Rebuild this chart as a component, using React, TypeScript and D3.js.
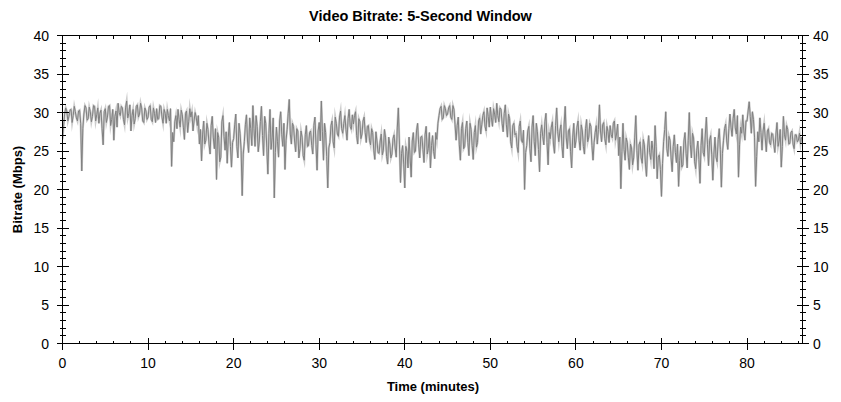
import React from "react";
import * as d3 from "d3";

const W = 841;
const H = 402;

const TITLE = "Video Bitrate: 5-Second Window";
const X_LABEL = "Time (minutes)";
const Y_LABEL = "Bitrate (Mbps)";

const STEP_MIN = 0.25;
const X_MAX = 86.48;
const Y_MAX = 40;

const xMajorTicks = [0, 10, 20, 30, 40, 50, 60, 70, 80];
const xMinorTicks = d3.range(0, 87, 2);
const yMajorTicks = [0, 5, 10, 15, 20, 25, 30, 35, 40];
const yMinorTicks = d3.range(0, 41, 1);

// Bitrate (Mbps) sampled at t = i * 0.25 min
const bitrate: number[] = [
  26.5, 29.8, 30.2, 29.5,
  30.4, 29.6, 30.1, 28.9,
  30.3, 22.4, 29.8, 30.6,
  29.2, 30.1, 29.5, 30.8,
  29.7, 28.6, 30.3, 25.8,
  30.5, 29.4, 30.9, 29.1,
  26.4, 30.2, 31.2, 29.6,
  30.6, 28.4, 31.5, 29.9,
  27.6, 30.4, 29.2, 31.0,
  29.8, 30.6, 28.7, 30.2,
  29.4, 30.9, 28.8, 29.9,
  30.5, 29.2, 30.8, 28.6,
  29.9, 30.4, 28.9, 23.0,
  26.2, 29.6, 30.4, 28.1,
  29.7, 26.5, 30.2, 28.8,
  29.4, 27.6, 30.0, 28.3,
  25.9, 23.7, 28.9, 26.4,
  27.8, 24.6, 29.5, 25.3,
  21.3, 26.8, 24.2, 29.6,
  25.1, 23.4, 28.7, 22.9,
  26.6, 29.8, 24.1, 27.3,
  19.2, 26.2, 29.7, 24.8,
  27.9, 30.9, 25.6, 28.2,
  26.3, 30.8, 24.4, 28.6,
  22.0, 30.4, 26.7, 18.9,
  28.1, 24.2, 30.1, 25.6,
  22.6, 27.8, 31.7, 25.9,
  28.2, 24.9, 27.6, 25.3,
  26.8, 23.8, 28.3, 25.7,
  27.6, 24.6, 29.4, 22.5,
  28.7, 31.5, 23.8, 27.4,
  20.2, 26.1, 28.9, 25.4,
  28.6, 26.9, 30.2, 27.3,
  29.6, 26.4, 30.4, 27.8,
  28.5, 30.1, 25.9, 28.8,
  27.2, 29.4, 26.1, 28.3,
  25.8, 27.4, 23.9, 26.3,
  24.7, 27.2, 25.1, 26.8,
  23.3, 25.9, 24.6, 27.1,
  24.2, 30.6, 20.9, 25.7,
  20.2, 24.9, 26.8, 21.6,
  27.4, 25.0, 28.6, 24.1,
  26.9, 23.5, 28.2, 25.3,
  22.8, 27.0, 24.0, 26.5,
  29.6, 30.8, 29.3, 30.5,
  29.8, 30.9, 29.1, 30.4,
  26.4, 29.4, 23.8, 28.7,
  25.6, 28.9, 24.4, 27.8,
  23.9, 28.3, 26.1, 29.3,
  28.4, 30.1, 27.6, 29.5,
  30.7, 28.2, 29.8, 31.2,
  28.8, 30.4, 27.5, 31.0,
  26.8, 29.2, 25.4, 28.6,
  27.3, 24.8, 28.9, 26.1,
  20.0, 25.7, 28.2, 23.6,
  29.6, 24.4, 27.5, 22.3,
  28.4, 25.8, 29.9, 23.2,
  26.6, 28.8, 24.7, 30.6,
  26.2, 28.4, 24.1, 30.8,
  25.3, 27.9, 22.8, 28.6,
  26.3, 28.9, 25.1, 27.6,
  24.6, 29.1, 26.8, 28.2,
  23.8, 27.4, 25.9, 31.0,
  26.2, 28.7, 25.8, 27.5,
  28.3, 26.7, 28.9, 27.2,
  24.4, 20.1, 28.6, 23.8,
  26.1, 22.6, 25.4, 24.1,
  29.6, 22.5, 26.2, 23.4,
  25.8, 21.7, 27.0, 23.9,
  25.1, 28.3, 21.4, 24.5,
  19.1, 26.2, 30.1, 24.3,
  26.4, 22.3, 27.1, 23.5,
  20.4, 25.6, 23.2, 27.4,
  22.8, 30.0, 24.1, 26.7,
  22.7, 26.3, 20.8, 27.9,
  24.3, 29.4, 23.1, 27.0,
  21.2, 26.8, 23.6, 27.9,
  20.3, 26.4, 28.5, 25.2,
  29.8, 26.9, 30.4, 27.2,
  21.6, 28.1, 29.7, 26.4,
  28.9, 31.4, 27.3, 29.1,
  20.4, 27.5, 29.3, 25.1,
  28.6, 24.9, 27.9, 25.8,
  27.2, 24.8, 28.7, 26.3,
  22.9, 29.5, 26.4, 27.8,
  26.0, 27.6, 25.3, 27.1,
  26.4, 25.9,
];

// Bitrate (Mbps) sampled at t = i * 0.25 + 0.125 min
const bitrateMid: number[] = [
  28.2, 30.6, 28.9, 30.3,
  28.7, 30.8, 29.3, 30.2,
  28.6, 27.9, 30.9, 29.0,
  30.7, 28.8, 30.9, 28.9,
  30.6, 29.9, 27.9, 30.1,
  28.7, 30.8, 28.3, 30.4,
  29.5, 28.1, 30.0, 30.8,
  29.1, 30.7, 29.3, 31.0,
  29.6, 28.5, 30.8, 29.4,
  31.2, 28.9, 30.6, 29.1,
  30.7, 29.1, 30.6, 28.7,
  29.1, 30.9, 29.4, 30.4,
  28.6, 29.6, 30.5, 27.4,
  28.8, 27.9, 29.1, 30.3,
  28.1, 29.9, 27.4, 30.5,
  30.1, 28.9, 29.4, 29.6,
  27.8, 27.2, 25.9, 28.6,
  25.9, 28.3, 26.7, 27.9,
  27.4, 23.6, 28.8, 26.9,
  27.5, 26.8, 25.6, 26.1,
  28.4, 25.6, 28.6, 25.1,
  24.6, 28.4, 26.3, 29.3,
  25.7, 27.9, 29.6, 24.9,
  28.8, 27.0, 29.5, 25.4,
  27.3, 25.2, 29.3, 24.8,
  26.2, 28.9, 27.1, 28.6,
  26.4, 29.9, 27.2, 28.6,
  26.3, 27.9, 24.1, 27.6,
  24.4, 27.1, 25.6, 27.4,
  25.7, 28.3, 25.8, 27.6,
  26.3, 27.5, 28.6, 24.3,
  25.4, 28.3, 26.2, 29.4,
  27.2, 29.4, 27.9, 28.6,
  27.8, 29.2, 28.2, 29.7,
  29.6, 27.0, 29.2, 26.6,
  28.9, 27.4, 28.2, 26.4,
  27.9, 25.1, 27.5, 24.8,
  26.3, 24.5, 27.8, 24.3,
  26.8, 24.1, 26.6, 25.4,
  28.0, 25.9, 24.7, 23.3,
  25.6, 22.8, 24.1, 26.3,
  24.8, 27.6, 25.8, 26.8,
  25.2, 27.1, 24.6, 27.4,
  25.7, 24.9, 27.4, 28.6,
  30.5, 29.1, 30.9, 29.6,
  30.6, 29.4, 30.9, 28.4,
  28.3, 25.8, 27.9, 25.3,
  27.9, 26.1, 28.6, 25.7,
  27.4, 25.5, 28.9, 27.2,
  29.6, 28.2, 30.6, 28.1,
  29.3, 30.5, 28.7, 29.6,
  30.6, 28.6, 29.9, 28.4,
  29.8, 26.2, 28.3, 27.1,
  25.6, 28.2, 26.4, 27.7,
  24.8, 27.6, 25.3, 28.1,
  26.2, 28.6, 25.2, 27.3,
  26.9, 28.8, 26.1, 27.4,
  28.1, 25.9, 28.3, 27.5,
  27.6, 25.6, 28.5, 26.7,
  27.6, 24.9, 26.8, 25.4,
  28.1, 26.4, 28.4, 25.6,
  27.9, 26.2, 28.6, 25.7,
  26.1, 28.3, 27.8, 27.6,
  28.4, 26.6, 28.2, 26.1,
  27.1, 28.6, 26.4, 28.5,
  26.8, 24.9, 25.2, 26.7,
  24.2, 25.9, 23.2, 26.8,
  25.1, 25.8, 24.1, 26.5,
  23.3, 25.4, 24.8, 26.3,
  22.7, 25.6, 24.2, 22.6,
  23.4, 27.8, 25.3, 26.9,
  24.1, 25.6, 24.8, 25.9,
  23.8, 22.9, 26.3, 24.7,
  26.4, 25.8, 27.3, 23.6,
  25.1, 23.9, 25.7, 24.8,
  27.2, 25.8, 26.4, 24.5,
  24.6, 24.2, 26.5, 25.2,
  24.7, 27.9, 26.3, 27.9,
  28.1, 29.2, 28.0, 29.6,
  25.8, 27.3, 27.6, 28.9,
  30.2, 29.5, 30.1, 26.8,
  24.3, 26.2, 27.4, 27.6,
  26.7, 27.6, 26.1, 27.3,
  25.9, 27.2, 25.6, 27.8,
  25.6, 27.1, 28.3, 25.9,
  27.4, 25.9, 27.1, 26.2,
  27.3, 26.8,
];

export default function App() {
  const left = 62.5;
  const right = 802.5;
  const top = 35.5;
  const bottom = 343.5;

  const x = d3.scaleLinear().domain([0, X_MAX]).range([left, right]);
  const y = d3.scaleLinear().domain([0, Y_MAX]).range([bottom, top]);

  const pts: [number, number][] = [];
  bitrate.forEach((v, i) => {
    pts.push([i * STEP_MIN, v]);
    if (i < bitrateMid.length) pts.push([i * STEP_MIN + STEP_MIN / 2, bitrateMid[i]]);
  });
  const line = d3
    .line<[number, number]>()
    .x((d) => x(d[0]))
    .y((d) => y(d[1]));
  const path = line(pts) || "";

  const font = "Arial, 'Liberation Sans', sans-serif";
  const ax = "#000";

  return (
    <svg
      width={W}
      height={H}
      style={{ position: "absolute", left: 0, top: 0, background: "#fff" }}
      fontFamily={font}
    >
      <rect x={0} y={0} width={W} height={H} fill="#fff" />
      <text x={420.5} y={21} textAnchor="middle" fontSize={14.5} fontWeight="bold">
        {TITLE}
      </text>

      <clipPath id="plotclip">
        <rect x={left} y={top} width={right - left} height={bottom - top} />
      </clipPath>
      <g clipPath="url(#plotclip)">
        <path d={path} fill="none" stroke="#cccccc" strokeWidth={2.2} strokeLinejoin="miter" strokeMiterlimit={10} />
        <path d={path} fill="none" stroke="#808080" strokeWidth={1} />
      </g>

      <g shapeRendering="crispEdges" stroke={ax} strokeWidth={1}>
        <line x1={left} x2={left} y1={top} y2={bottom} />
        <line x1={right} x2={right} y1={top} y2={bottom} />
        <line x1={left} x2={right} y1={top} y2={top} />
        <line x1={left} x2={right} y1={bottom} y2={bottom} />
        {yMinorTicks.map((t) => {
          const major = t % 5 === 0;
          const yy = Math.round(y(t) - 0.5) + 0.5;
          const d = major ? 6 : 3;
          return (
            <g key={"y" + t}>
              <line x1={left - d} x2={left + d} y1={yy} y2={yy} />
              <line x1={right - d} x2={right + d} y1={yy} y2={yy} />
            </g>
          );
        })}
        {xMinorTicks.map((t) => {
          const major = t % 10 === 0;
          const xx = Math.round(x(t) - 0.5) + 0.5;
          return (
            <g key={"x" + t}>
              <line x1={xx} x2={xx} y1={bottom - (major ? 6 : 3)} y2={bottom + (major ? 6 : 0)} />
              <line x1={xx} x2={xx} y1={top} y2={top + (major ? 6 : 3)} />
            </g>
          );
        })}
      </g>

      <g fontSize={14} fill="#000">
        {yMajorTicks.map((t) => (
          <g key={"yl" + t}>
            <text x={49} y={y(t) + 5} textAnchor="end">
              {t}
            </text>
            <text x={813} y={y(t) + 5} textAnchor="start">
              {t}
            </text>
          </g>
        ))}
        {xMajorTicks.map((t) => (
          <text key={"xl" + t} x={x(t)} y={368} textAnchor="middle">
            {t}
          </text>
        ))}
      </g>

      <text x={433} y={391} textAnchor="middle" fontSize={13} fontWeight="bold">
        {X_LABEL}
      </text>
      <text
        transform={`translate(21.5, ${(top + bottom) / 2}) rotate(-90)`}
        textAnchor="middle"
        fontSize={13}
        fontWeight="bold"
      >
        {Y_LABEL}
      </text>
    </svg>
  );
}
